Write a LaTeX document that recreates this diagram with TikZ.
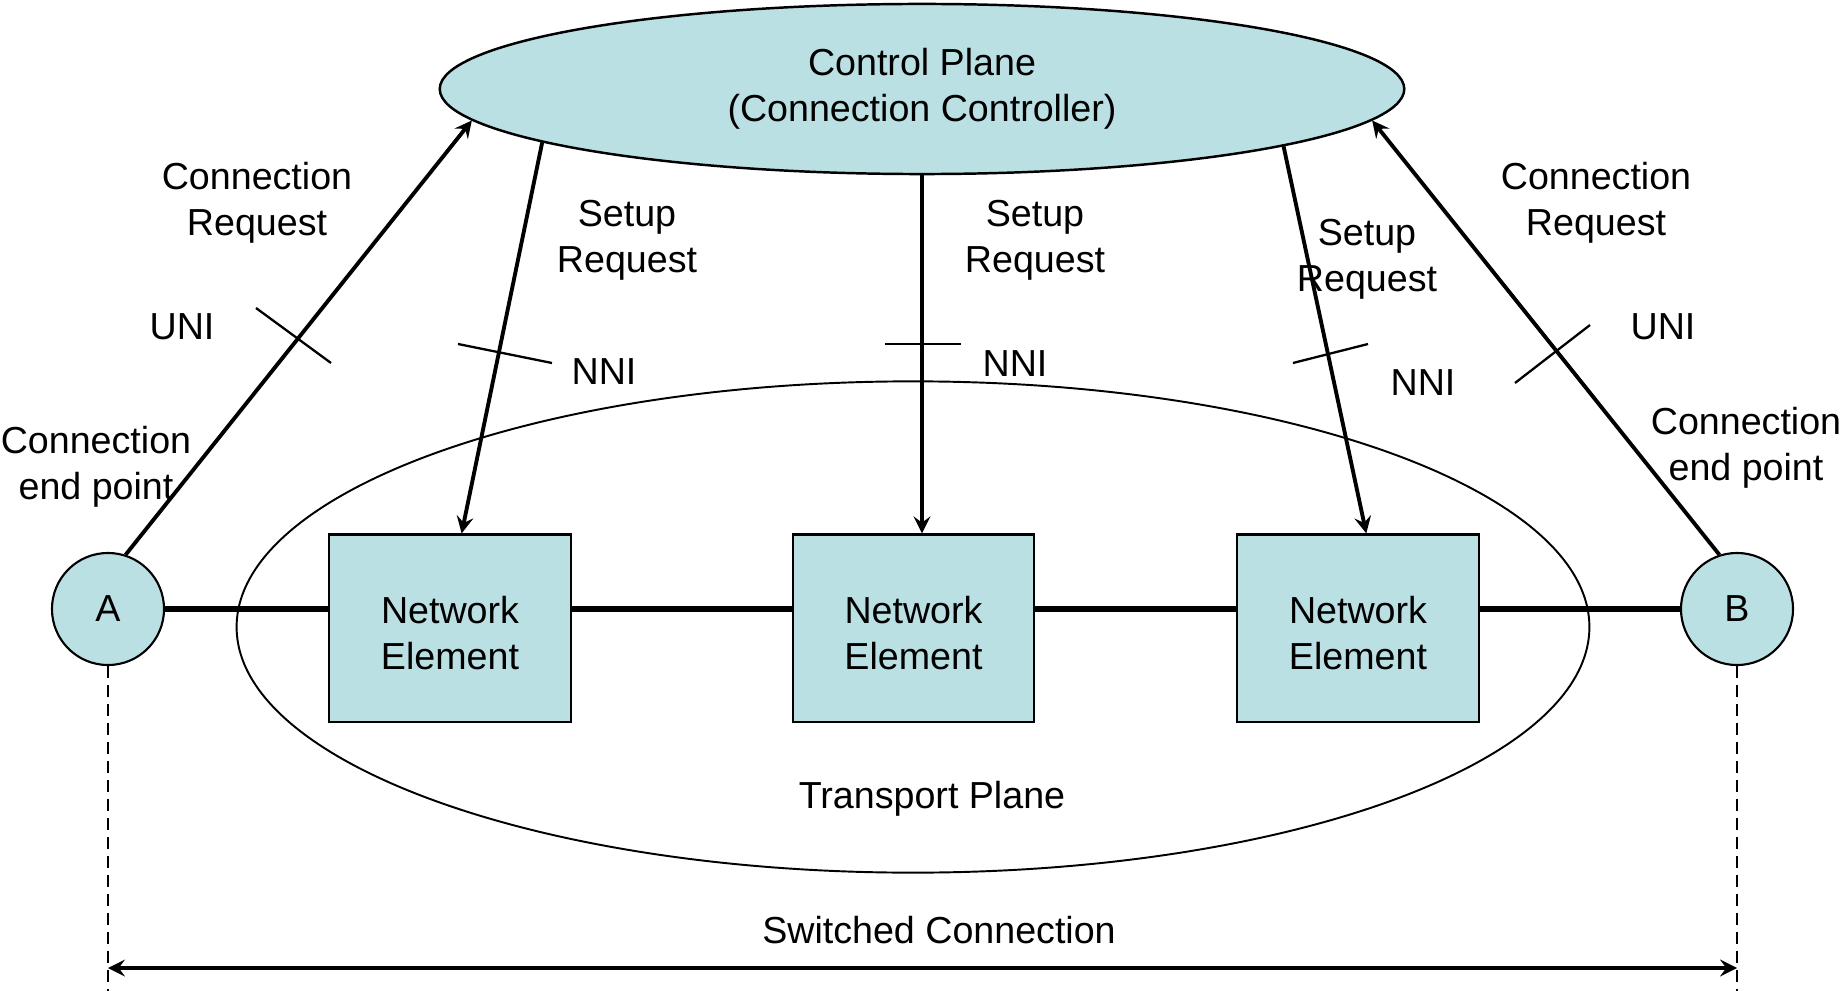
\documentclass[tikz,border=0pt]{standalone}
\usepackage{fontspec}
\setmainfont{Liberation Sans}
\usetikzlibrary{shapes.geometric}
\definecolor{planeblue}{RGB}{187,224,227}
\begin{document}
\begin{tikzpicture}[x=0.01cm, y=-0.01cm, font=\fontsize{10.7}{13.1}\selectfont,
    lbl/.style={align=center, inner sep=0pt},
    twoline/.style={lbl, yshift=-0.05cm},
    nebox/.style={draw, line width=0.6pt, fill=planeblue, minimum width=2.41cm, minimum height=1.87cm, inner sep=0pt,
        label={[twoline]center:{Network\\Element}}},
    endpt/.style={draw, circle, line width=0.6pt, fill=planeblue, minimum size=1.12cm, inner sep=0pt},
    sig/.style={-stealth, line width=1.1pt},
    wire/.style={line width=1.9pt},
    tick/.style={line width=0.65pt}]
    \useasboundingbox (0,0) rectangle (1842,991);
    % planes
    \draw[line width=0.55pt] (913,627) ellipse [x radius=6.76cm, y radius=2.455cm];
    \node[lbl] (tp) at (932,799) {Transport Plane};
    \node[draw, ellipse, fill=planeblue, line width=0.7pt, minimum width=9.64cm, minimum height=1.70cm, inner sep=0pt, align=center] (cp) at (922,89) {Control Plane\\(Connection Controller)};
    % network elements and end points
    \node[nebox] (ne1) at (450,628) {};
    \node[nebox] (ne2) at (913.5,628) {};
    \node[nebox] (ne3) at (1358,628) {};
    \node[endpt] (a) at (108,609) {A};
    \node[endpt] (b) at (1737,609) {B};
    \draw[wire] (a.east) -- (ne1.west |- a.east);
    \draw[wire] (ne1.east |- a.east) -- (ne2.west |- a.east);
    \draw[wire] (ne2.east |- a.east) -- (ne3.west |- a.east);
    \draw[wire] (ne3.east |- a.east) -- (b.west);
    % requests
    \draw[sig] (a.72) -- (cp.184);
    \draw[sig] (b.108) -- (cp.356);
    \draw[sig] (cp.188) -- (ne1.83);
    \draw[sig] (cp.south) -- (cp.south |- ne2.north);
    \draw[sig] (cp.351) -- (ne3.85);
    % interface marks
    \draw[tick] (256,308) -- (331,363);
    \draw[tick] (458,344) -- (552,363);
    \draw[tick] (885,344) -- (961,344);
    \draw[tick] (1293,363) -- (1368,344);
    \draw[tick] (1515,383) -- (1590,325);
    % labels
    \node[twoline] (crl) at (257,198) {Connection\\Request};
    \node[twoline] (crr) at (1596,198) {Connection\\Request};
    \node[twoline] (srl) at (627,235) {Setup\\Request};
    \node[twoline] (srm) at (1035,235) {Setup\\Request};
    \node[twoline] (srr) at (1367,254) {Setup\\Request};
    \node[lbl] (unil) at (182,327) {UNI};
    \node[lbl] (unir) at (1663,327) {UNI};
    \node[lbl] (nnil) at (604,372) {NNI};
    \node[lbl] (nnim) at (1015,364) {NNI};
    \node[lbl] (nnir) at (1423,383) {NNI};
    \node[twoline] (epl) at (96,462) {Connection\\end point};
    \node[twoline] (epr) at (1746,443) {Connection\\end point};
    % switched connection
    \draw[dash pattern=on 3.4pt off 2pt, line width=0.6pt] (a.south) -- (a.south |- 0,991);
    \draw[dash pattern=on 3.4pt off 2pt, line width=0.6pt] (b.south) -- (b.south |- 0,991);
    \coordinate (sa) at (108,968);
    \coordinate (sb) at (1737,968);
    \draw[stealth-stealth, line width=1.1pt] (sa) -- (sb);
    \node[lbl] (sw) at (939,930) {Switched Connection};
\end{tikzpicture}
\end{document}
